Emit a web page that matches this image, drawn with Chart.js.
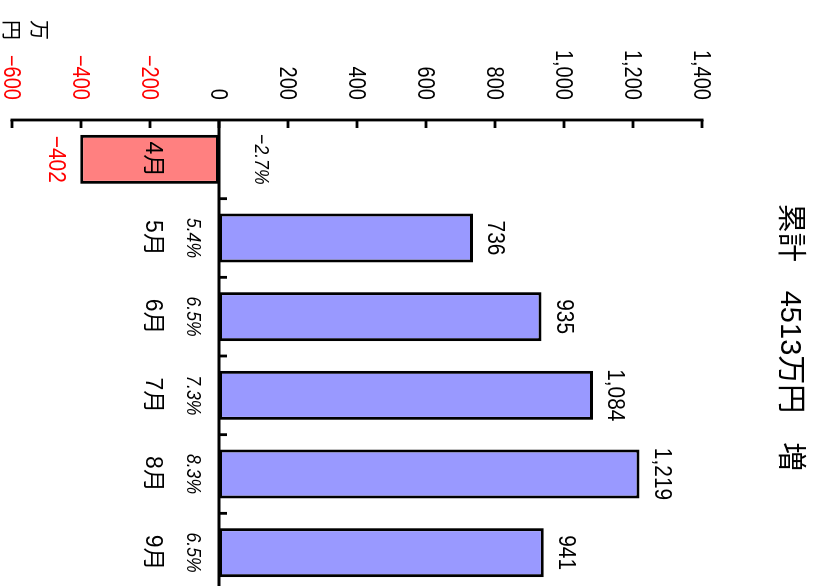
<!DOCTYPE html>
<html><head><meta charset="utf-8">
<script src="https://cdn.jsdelivr.net/npm/chart.js@4"></script>
<style>
html,body{margin:0;padding:0;overflow:hidden;background:#fff;width:819px;height:586px;}
#wrap{position:absolute;left:0;top:0;width:600px;height:819px;transform-origin:0 0;transform:translate(819px,0) rotate(90deg);}
</style></head><body>
<div id="wrap"><canvas id="c" width="600" height="819"></canvas></div>
<script>
const categories = ['4月','5月','6月','7月','8月','9月'];
const values = [-402, 736, 935, 1084, 1219, 941];
const growthPct = [-2.7, 5.4, 6.5, 7.3, 8.3, 6.5];
const yTicks = [-600,-400,-200,0,200,400,600,800,1000,1200,1400];
const titleText = '累計　4513万円　増';
const unitText = ['万','円'];

const LAT = '"Liberation Sans", Arial, "Noto Sans CJK JP", sans-serif';
const CJK = '"Liberation Sans", "Noto Sans CJK JP", sans-serif';
const RED = '#FF0000';
function fmt(v){ return (v<0?'\u2212':'') + Math.abs(v).toLocaleString('en-US'); }
function fmtPct(p){ return (p<0?'\u2212':'') + Math.abs(p).toFixed(1) + '%'; }

const overlay = {
  id:'overlay',
  afterDatasetsDraw(chart){
    const ctx = chart.ctx, x = chart.scales.x, y = chart.scales.y, ca = chart.chartArea;
    const z = y.getPixelForValue(0);
    ctx.save();
    ctx.strokeStyle = '#000'; ctx.lineCap = 'butt';
    // value axis line + inward ticks
    ctx.lineWidth = 2.8;
    ctx.beginPath();
    ctx.moveTo(ca.left, y.getPixelForValue(yTicks[0]) + 1.4);
    ctx.lineTo(ca.left, y.getPixelForValue(yTicks[yTicks.length-1]) - 1.4);
    ctx.stroke();
    y.ticks.forEach(t => {
      const p = y.getPixelForValue(t.value);
      ctx.beginPath(); ctx.moveTo(ca.left, p); ctx.lineTo(ca.left + 8, p); ctx.stroke();
    });
    // zero line
    ctx.lineWidth = 3;
    ctx.beginPath(); ctx.moveTo(ca.left, z); ctx.lineTo(ca.right + 10, z); ctx.stroke();
    // category ticks
    ctx.lineWidth = 2.8;
    for (let i = 0; i < categories.length; i++) {
      const p = x.getPixelForValue(i + 0.5);
      ctx.beginPath(); ctx.moveTo(p, z); ctx.lineTo(p, z - 8); ctx.stroke();
    }
    function txt(s, cx, cy, font, color, sx, size, cjk, align){
      ctx.save(); ctx.translate(cx, cy); ctx.scale(sx, 1);
      ctx.font = font; ctx.fillStyle = color; ctx.textAlign = align || 'center';
      if (cjk) { ctx.textBaseline = 'middle'; ctx.fillText(s, 0, 0); }
      else { ctx.textBaseline = 'alphabetic'; ctx.fillText(s, 0, size * 0.36); }
      ctx.restore();
    }
    // tick labels
    y.ticks.forEach(t => {
      const p = y.getPixelForValue(t.value);
      txt(fmt(t.value), ca.left - 20, p, '23px ' + LAT, t.value < 0 ? RED : '#000', 0.87, 23, false, 'right');
    });
    for (let i = 0; i < categories.length; i++) {
      const cx = x.getPixelForValue(i);
      const v = values[i];
      const end = y.getPixelForValue(v);
      // value labels
      txt(fmt(v), cx, v < 0 ? end + 23 : end - 24, '24px ' + LAT, v < 0 ? RED : '#000', 0.87, 24, false);
      // percent labels
      txt(fmtPct(growthPct[i]), cx, v < 0 ? z - 44 : z + 24, 'italic 21px ' + LAT, '#000', 0.84, 21, false);
      // category labels
      txt(categories[i], cx, z + 66.5, '23px ' + CJK, '#000', 1, 23, true);
    }
    // title
    txt(titleText, 337.5, 30, '29px ' + CJK, '#000', 1, 29, true);
    // unit (vertical)
    txt(unitText[0], 30, 779, '20px "Noto Sans CJK JP", sans-serif', '#000', 1, 20, true);
    txt(unitText[1], 30, 807, '20px "Noto Sans CJK JP", sans-serif', '#000', 1, 20, true);
    ctx.restore();
  }
};

new Chart(document.getElementById('c'), {
  type: 'bar',
  data: {
    labels: categories,
    datasets: [{
      data: values,
      backgroundColor: values.map(v => v < 0 ? '#FF8080' : '#9999FF'),
      borderColor: '#000',
      borderWidth: 3,
      borderSkipped: false,
      categoryPercentage: 1,
      barPercentage: 0.623
    }]
  },
  options: {
    responsive: false, animation: false, devicePixelRatio: 1,
    layout: { padding: { left: 0, right: 8, top: 117, bottom: 12 } },
    plugins: { legend: { display: false }, tooltip: { enabled: false }, title: { display: false } },
    scales: {
      x: { type: 'category', display: false, offset: true },
      y: {
        min: -600, max: 1400,
        afterFit(s){ s.width = 120; s.paddingTop = 0; s.paddingBottom = 0; },
        ticks: { stepSize: 200, display: false },
        grid: { display: false, drawTicks: false },
        border: { display: false }
      }
    }
  },
  plugins: [overlay]
});
</script>
</body></html>
